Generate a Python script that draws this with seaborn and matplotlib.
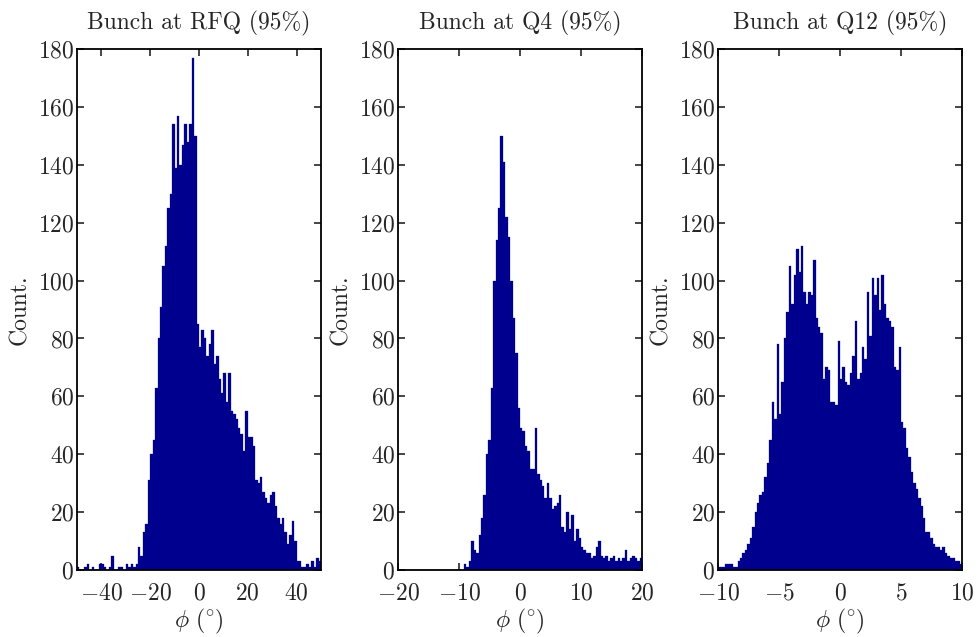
import numpy as np
import pandas as pd
import matplotlib
matplotlib.use("Agg")
import matplotlib.pyplot as plt
import seaborn as sns

# ---------------- data (bin counts) ----------------
titles = ["Bunch at RFQ (95%)", "Bunch at Q4 (95%)", "Bunch at Q12 (95%)"]

# Panel 1: bins of width 1 from -50 to 50
rfq_start, rfq_width = -50.0, 1.0
rfq_counts = [1, 0, 0, 1, 2, 0, 1, 0, 0, 2, 2, 1, 0, 1, 5, 0, 0, 1, 1, 0, 2, 1, 2, 1, 2,
              8, 5, 13, 16, 31, 40, 45, 63, 80, 91, 105, 112, 125, 130, 154, 139, 157, 140, 147, 154,
              148, 154, 177, 150, 85,
              77, 83, 80, 74, 78, 83, 71, 74, 66, 61, 68, 58, 68, 55, 54, 52, 49, 47, 41, 55,
              46, 46, 43, 31, 30, 32, 27, 25, 23, 26, 27, 22, 18, 16, 18, 13, 9, 12, 17, 10,
              3, 3, 1, 1, 2, 1, 3, 1, 4, 3]

# Panel 2: bins of width 0.4 from -20 to 20
q4_start, q4_width = -20.0, 0.4
q4_counts = [0] * 27 + [2, 1, 3, 10, 7, 6, 12, 18, 26, 40,
                        45, 63, 100, 114, 125, 150, 141, 122, 115, 100,
                        87, 75, 56, 49, 48, 43, 41, 35, 35, 49,
                        33, 31, 29, 25, 30, 25, 21, 22, 23, 26,
                        15, 13, 20, 14, 19, 10, 14, 11, 8, 7,
                        6, 6, 4, 5, 8, 10, 5, 4, 5, 3,
                        4, 5, 3, 4, 3, 4, 7, 3, 4, 5,
                        4, 3, 4]

# Panel 3: bins of width 0.2 from -10 to 10
q12_start, q12_width = -10.0, 0.2
q12_counts = [1, 1, 1, 2, 2, 2, 1, 1, 3, 4,
              6, 7, 9, 11, 15, 20, 23, 26, 27, 32,
              37, 45, 58, 52, 78, 54, 65, 80, 89, 105,
              92, 102, 111, 103, 112, 96, 92, 96, 95, 107,
              87, 84, 82, 66, 70, 69, 58, 58, 57, 79,
              66, 70, 65, 64, 68, 74, 86, 66, 68, 77,
              73, 96, 81, 101, 95, 101, 90, 102, 92, 87,
              86, 84, 70, 69, 77, 51, 49, 42, 39, 34,
              30, 28, 25, 22, 18, 13, 13, 11, 9, 8,
              8, 7, 8, 6, 5, 4, 4, 3, 3, 2]

x_limits = [(-50, 50), (-20, 20), (-10, 10)]
x_ticks = [[-40, -20, 0, 20, 40], [-20, -10, 0, 10, 20], [-10, -5, 0, 5, 10]]
y_ticks = [0, 20, 40, 60, 80, 100, 120, 140, 160, 180]

panels = [(rfq_start, rfq_width, rfq_counts),
          (q4_start, q4_width, q4_counts),
          (q12_start, q12_width, q12_counts)]

# ---------------- style ----------------
sns.set_style("ticks")
plt.rcParams["font.family"] = ["cmr10", "DejaVu Serif"]
plt.rcParams["mathtext.fontset"] = "cm"
plt.rcParams["axes.formatter.use_mathtext"] = True
plt.rcParams["axes.unicode_minus"] = True

bar_color = "#00008F"
fs = 17

fig = plt.figure(figsize=(9.79, 6.37), dpi=100)
lefts = [77, 398, 718]
W, H = 979.0, 637.0

for i, (start, width, counts) in enumerate(panels):
    ax = fig.add_axes([lefts[i] / W, 67 / H, 244 / W, 521 / H])
    counts = np.asarray(counts, dtype=float)
    n = len(counts)
    centers = start + width * (np.arange(n) + 0.5)
    df = pd.DataFrame({"phi": centers, "count": counts})
    sns.histplot(data=df, x="phi", weights="count", binwidth=width,
                 binrange=(start, start + width * n), ax=ax,
                 color=bar_color, alpha=1.0, edgecolor=bar_color, linewidth=0.2,
                 element="bars", fill=True)
    ax.set_xlim(*x_limits[i])
    ax.set_ylim(0, 180)
    ax.set_xticks(x_ticks[i])
    ax.set_yticks(y_ticks)
    for s in ax.spines.values():
        s.set_visible(True)
        s.set_linewidth(1.3)
        s.set_color("black")
    ax.tick_params(direction="in", length=5, width=1.2, top=True, right=True,
                   labelsize=fs)
    ax.tick_params(axis="x", pad=9)
    ax.tick_params(axis="y", pad=2)
    ax.set_title(titles[i], fontsize=fs, pad=14)
    ax.set_xlabel(r"$\phi$ ($\!^\circ\!$)", fontsize=fs, labelpad=2)
    ax.set_ylabel("Count.", fontsize=fs, labelpad=5)

fig.savefig("out.png", dpi=100)
